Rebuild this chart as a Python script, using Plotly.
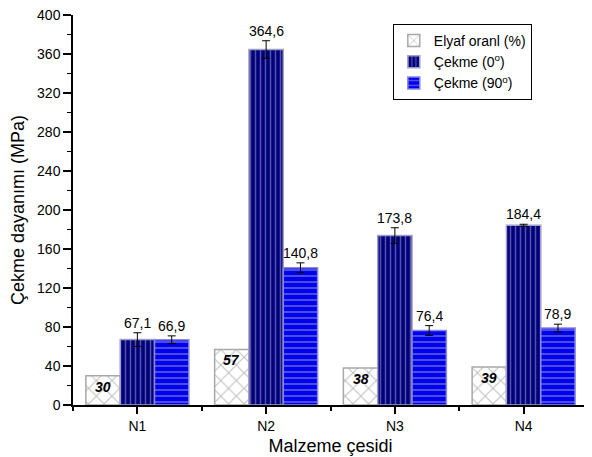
import plotly.graph_objects as go

categories = ["N1", "N2", "N3", "N4"]
elyaf = [30, 57, 38, 39]
cekme0 = [67.1, 364.6, 173.8, 184.4]
cekme0_err = [7, 9, 8, 1]
cekme90 = [66.9, 140.8, 76.4, 78.9]
cekme90_err = [4, 5, 5, 4]
y_ticks = list(range(0, 401, 40))

xpos = list(range(len(categories)))
FONT = "Liberation Sans, Arial, sans-serif"

fig = go.Figure()
fig.add_trace(go.Bar(
    x=xpos, y=elyaf, name="Elyaf oranl (%)",
    marker=dict(color="white", line=dict(color="#a8a8a8", width=1.5),
                pattern=dict(shape="x", fgcolor="#808080", bgcolor="white", size=11, solidity=0.18)),
))
fig.add_trace(go.Bar(
    x=xpos, y=cekme0, name="Çekme (0<sup>o</sup>)",
    error_y=dict(type="data", array=cekme0_err, color="black", thickness=1, width=4),
    marker=dict(color="#00007f", line=dict(color="#a0a0c8", width=1.5),
                pattern=dict(shape="|", fgcolor="#a8a8c0", bgcolor="#00007f", size=5, solidity=0.3)),
))
fig.add_trace(go.Bar(
    x=xpos, y=cekme90, name="Çekme (90<sup>o</sup>)",
    error_y=dict(type="data", array=cekme90_err, color="black", thickness=1, width=4),
    marker=dict(color="#0000f0", line=dict(color="#8888e0", width=1.5),
                pattern=dict(shape="-", fgcolor="#a8a8c8", bgcolor="#0000f0", size=6, solidity=0.3)),
))

bw = 0.8 / 3
annotations = []
for i in xpos:
    annotations.append(dict(x=i - bw, y=elyaf[i], text=str(elyaf[i]), showarrow=False,
                            yanchor="top", yshift=-1,
                            font=dict(family=FONT, size=14, color="black", weight="bold", style="italic")))
    annotations.append(dict(x=i, y=cekme0[i] + cekme0_err[i], text=f"{cekme0[i]:.1f}".replace(".", ","),
                            showarrow=False, yanchor="bottom", yshift=0,
                            font=dict(family=FONT, size=14, color="black")))
    annotations.append(dict(x=i + bw, y=cekme90[i] + cekme90_err[i], text=f"{cekme90[i]:.1f}".replace(".", ","),
                            showarrow=False, yanchor="bottom", yshift=0,
                            font=dict(family=FONT, size=14, color="black")))

fig.update_layout(
    width=584, height=449,
    margin=dict(l=65, r=4, t=7, b=52, autoexpand=False),
    paper_bgcolor="white", plot_bgcolor="white",
    barmode="group", bargap=0.2, bargroupgap=0,
    font=dict(family=FONT, size=14, color="black"),
    showlegend=True,
    legend=dict(x=0.621, y=0.977, xanchor="left", yanchor="top",
                bordercolor="black", borderwidth=1, bgcolor="white",
                font=dict(family=FONT, size=14), tracegroupgap=2,
                itemwidth=30),
    annotations=annotations,
    xaxis=dict(range=[-0.5, 3.5], tickmode="array", tickvals=xpos, ticktext=categories,
               showline=True, linecolor="black", linewidth=1.5, mirror=False, automargin=False,
               ticks="outside", ticklen=7, tickcolor="black", tickwidth=1.5,
               minor=dict(tick0=0.5, dtick=1, ticks="outside", ticklen=4, tickcolor="black", tickwidth=1.5),
               showgrid=False, zeroline=False,
               title=dict(text="Malzeme çesidi", font=dict(family=FONT, size=18), standoff=7),
               tickfont=dict(size=14)),
    yaxis=dict(range=[0, 400], tickmode="array", tickvals=y_ticks,
               showline=True, linecolor="black", linewidth=1.5, mirror=False, automargin=False,
               ticks="outside", ticklen=8, tickcolor="black", tickwidth=1.5,
               minor=dict(dtick=20, ticks="outside", ticklen=4, tickcolor="black", tickwidth=1),
               showgrid=False, zeroline=False, ticklabeloverflow="allow",
               title=dict(text="Çekme dayanımı (MPa)", font=dict(family=FONT, size=18), standoff=9),
               tickfont=dict(size=14)),
)

fig.write_html("out.html")
